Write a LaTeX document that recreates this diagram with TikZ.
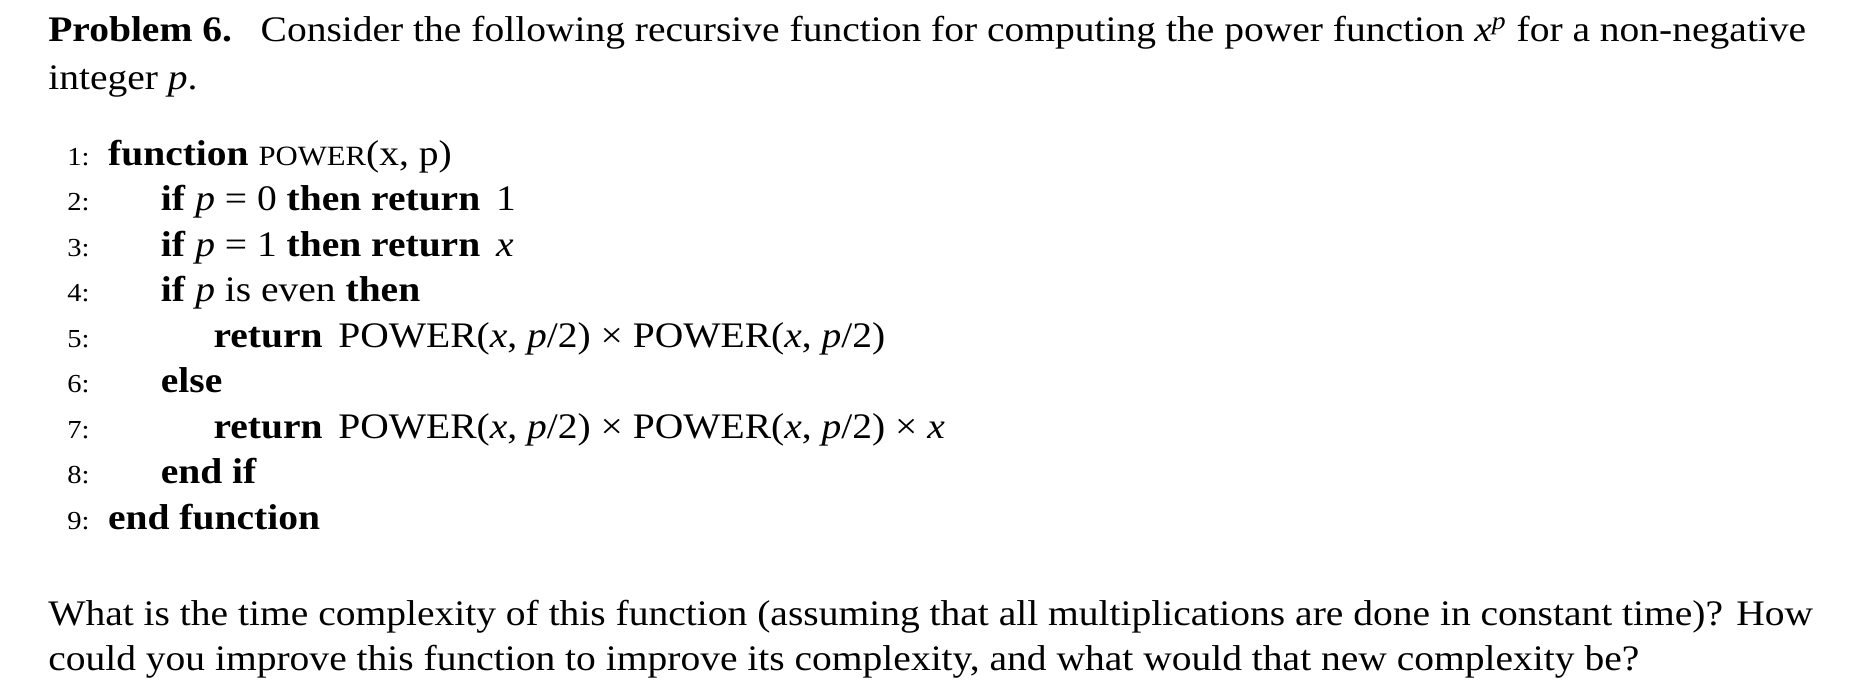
\documentclass[tikz,border=0pt]{standalone}
\usepackage{fontspec}
\setmainfont[FakeStretch=1.1]{Liberation Serif}
\newcommand{\mv}[1]{\textit{#1}}
\begin{document}
\begin{tikzpicture}[x=0.6pt,y=-0.6pt,
  txt/.style={anchor=base west,inner sep=0pt,font=\fontsize{18}{20}\selectfont},
  num/.style={anchor=base west,inner sep=0pt,font=\fontsize{13}{15}\selectfont}]
\useasboundingbox (0,0) rectangle (1560,580);
\node[txt] (t1) at (40,35) {\textbf{Problem 6.}\hspace{0.8em}Consider the following recursive function for computing the power function \mv{x}\textsuperscript{\mv{p}} for a non-negative};
\node[txt] (t2) at (40,75) {integer \mv{p}.};
\foreach \i/\y in {1/138,2/176,3/214,4/252,5/290,6/328,7/366,8/404,9/442}
  \node[num] (n\i) at (56,\y) {\i:};
\node[txt] (c1) at (90,138) {\textbf{function} {\fontsize{14}{16}\selectfont POWER}(x, p)};
\node[txt] (c2) at (134,176) {\textbf{if} \mv{p} = 0 \textbf{then return} \,1};
\node[txt] (c3) at (134,214) {\textbf{if} \mv{p} = 1 \textbf{then return} \,\mv{x}};
\node[txt] (c4) at (134,252) {\textbf{if} \mv{p} is even \textbf{then}};
\node[txt] (c5) at (178,290) {\textbf{return} \,POWER(\mv{x}, \mv{p}/2) × POWER(\mv{x}, \mv{p}/2)};
\node[txt] (c6) at (134,328) {\textbf{else}};
\node[txt] (c7) at (178,366) {\textbf{return} \,POWER(\mv{x}, \mv{p}/2) × POWER(\mv{x}, \mv{p}/2) × \mv{x}};
\node[txt] (c8) at (134,404) {\textbf{end if}};
\node[txt] (c9) at (90,442) {\textbf{end function}};
\node[txt] (q1) at (40,522) {What is the time complexity of this function (assuming that all multiplications are done in constant time)? How};
\node[txt] (q2) at (40,560) {could you improve this function to improve its complexity, and what would that new complexity be?};
\end{tikzpicture}
\end{document}
